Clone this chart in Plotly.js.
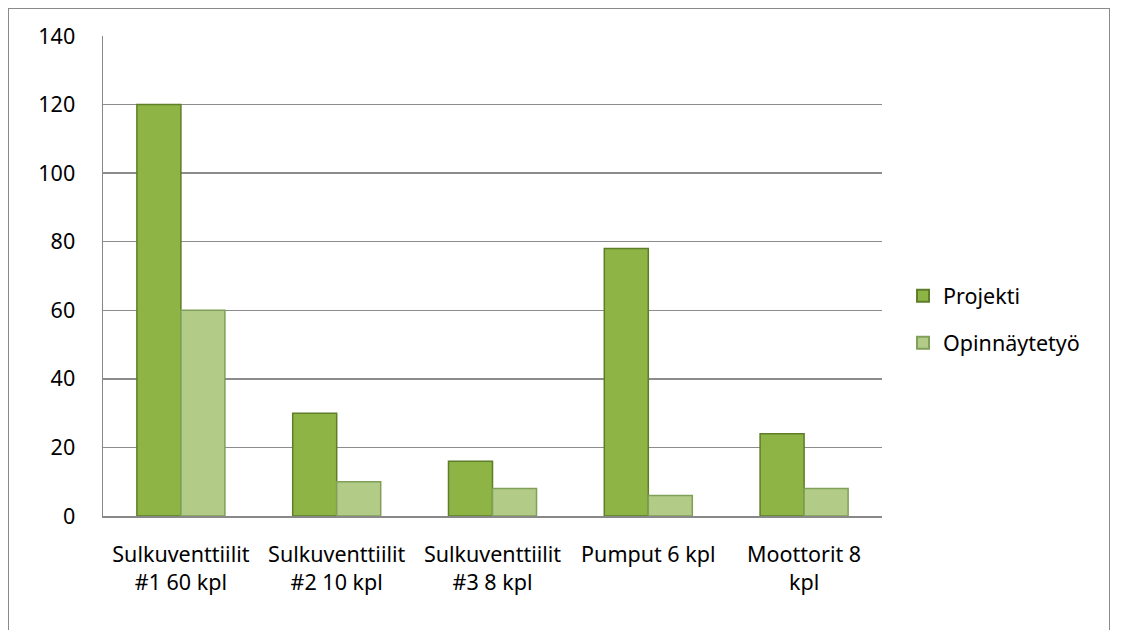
<!DOCTYPE html>
<html><head><meta charset="utf-8">
<script src="https://cdn.plot.ly/plotly-3.0.1.min.js"></script>
<style>
body{margin:0;background:#fff;}
#frame{position:absolute;left:8px;top:8px;width:1102px;height:640px;border:1px solid #8a8a8a;box-sizing:border-box;}
#chart{position:absolute;left:0;top:0;width:1121px;height:630px;}
</style></head>
<body>
<div id="frame"></div>
<div id="chart"></div>
<script>
const categories = ["Sulkuventtiilit<br>#1 60 kpl","Sulkuventtiilit<br>#2 10 kpl","Sulkuventtiilit<br>#3 8 kpl","Pumput 6 kpl<br> ","Moottorit 8<br>kpl"];
const projekti = [120, 30, 16, 78, 24];
const opinnaytetyo = [60, 10, 8, 6, 8];
const yTicks = [0,20,40,60,80,100,120,140];

const font = {family:"'Noto Sans', sans-serif", size:21.5, color:"#000"};
const data = [
 {type:"bar", name:"Projekti", x:categories, y:projekti, legendgroup:"a",
  marker:{color:"#8fb446", line:{color:"#5e7d28", width:1.5}}},
 {type:"bar", name:"Opinnäytetyö", x:categories, y:opinnaytetyo, legendgroup:"b",
  marker:{color:"#b2cc88", line:{color:"#809f5a", width:1.5}}}
];
const layout = {
 width:1121, height:630,
 margin:{l:103, r:239, t:36, b:114},
 paper_bgcolor:"rgba(0,0,0,0)", plot_bgcolor:"rgba(0,0,0,0)",
 barmode:"group", bargap:0.435, bargroupgap:0,
 font:font,
 showlegend:true,
 legend:{x:1.027, y:0.41, yanchor:"middle", xanchor:"left", font:font, traceorder:"grouped", tracegroupgap:16, itemsizing:"constant", bgcolor:"rgba(0,0,0,0)"},
 xaxis:{type:"category", showline:true, linecolor:"#888", linewidth:1.5, ticks:"", showgrid:false,
        tickfont:font, ticklabelstandoff:19, automargin:false},
 yaxis:{range:[0,140], tickvals:yTicks, showgrid:true, gridcolor:"#8c8c8c", gridwidth:1.5,
        showline:true, linecolor:"#888", linewidth:1.5, ticks:"", zeroline:false,
        tickfont:font, ticklabelstandoff:22, automargin:false}
};
Plotly.newPlot("chart", data, layout, {displayModeBar:false, staticPlot:true});
</script>
</body></html>
